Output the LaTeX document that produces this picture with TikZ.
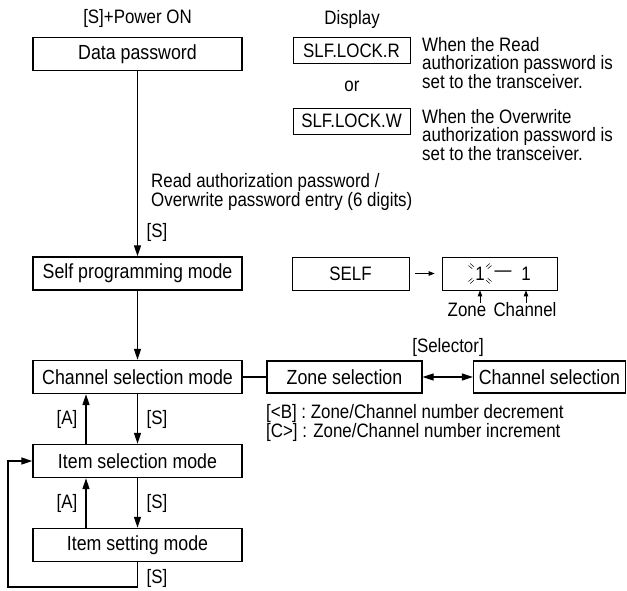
\documentclass[tikz,border=0pt]{standalone}
\usepackage{fontspec}
\setmainfont[FakeStretch=0.87]{Liberation Sans}
\usetikzlibrary{arrows.meta,calc}

\begin{document}
\begin{tikzpicture}[x=1bp,y=-1bp,
    mbox/.style={draw,line width=1.4bp,minimum width=209bp,minimum height=33bp,inner sep=0pt,font=\fontsize{20.5}{20.5}\selectfont},
    dbox/.style={draw,line width=0.7bp,minimum width=117bp,minimum height=26bp,inner sep=0pt,font=\fontsize{19.5}{19.5}\selectfont},
    txt/.style={inner sep=0pt,font=\fontsize{19.5}{17.8}\selectfont,align=left},
    arr/.style={line width=1.2bp,-{Triangle[length=11bp,width=7bp]}},
    darr/.style={line width=1.2bp,{Triangle[length=11bp,width=7bp]}-{Triangle[length=11bp,width=7bp]}},
    sarr/.style={line width=0.8bp,-{Triangle[length=6bp,width=4.5bp]}}]
  \useasboundingbox (0,0) rectangle (627,591);

  \node[txt] (pwr) at (137.5,18) {[S]+Power ON};
  \node[mbox] (dpw) at (137.5,54) {Data password};
  \node[mbox] (spm) at (137.5,273.5) {Self programming mode};
  \node[mbox] (csm) at (137.5,377) {Channel selection mode};
  \node[mbox] (ism) at (137.5,461) {Item selection mode};
  \node[mbox] (itm) at (137.5,545) {Item setting mode};

  \node[txt] (disp) at (352,19) {Display};
  \node[dbox] (lkr) at (351.5,50.5) {SLF.LOCK.R};
  \node[txt] (or) at (352,86) {or};
  \node[dbox] (lkw) at (351.5,121) {SLF.LOCK.W};
  \node[txt,anchor=west] (nr) at (422,63) {When the Read\\authorization password is\\set to the transceiver.};
  \node[txt,anchor=west] (nw) at (422,135) {When the Overwrite\\authorization password is\\set to the transceiver.};

  \node[txt,anchor=west] (pin) at (151,192) {Read authorization password /\\Overwrite password entry (6 digits)};
  \node[txt] (s1) at (157,232) {[S]};

  \node[dbox,minimum height=33bp] (self) at (350.5,273.5) {SELF};
  \node[dbox,minimum width=115bp,minimum height=33bp] (cnt) at (499.5,273.5) {};
  \node[txt] (d1) at (480,273.5) {1};
  \node[txt] (dsh) at (503,273.5) {---};
  \node[txt] (d2) at (526,273.5) {1};
  \foreach \a in {40,140,220,320}
    \foreach \s in {-1.3,1.3}
      \draw[line width=0.5bp] ($(d1.center)+(\a:9bp)+(\a+90:\s bp)$) -- ($(d1.center)+(\a:14bp)+(\a+90:\s bp)$);
  \node[txt] (zn) at (467,310) {Zone};
  \node[txt] (ch) at (525,310) {Channel};

  \node[txt] (sel) at (448,347) {[Selector]};
  \node[dbox,line width=1.2bp,minimum width=155bp,minimum height=32bp,font=\fontsize{20.5}{20.5}\selectfont] (zsel) at (344.5,377) {Zone selection};
  \node[dbox,line width=1.2bp,minimum width=152bp,minimum height=32bp,font=\fontsize{20.5}{20.5}\selectfont] (chsel) at (549.5,377) {Channel selection};
  \node[txt,anchor=west] (bc) at (266,423) {[<B] : Zone/Channel number decrement\\{}[C>] : Zone/Channel number increment};

  \node[txt] (a1) at (67,419) {[A]};
  \node[txt] (s2) at (157,419) {[S]};
  \node[txt] (a2) at (67,503) {[A]};
  \node[txt] (s3) at (157,503) {[S]};
  \node[txt] (s4) at (157,578) {[S]};
  \coordinate (lp) at (8,587);

  \draw[arr] (dpw) -- (spm);
  \draw[arr] (spm) -- (csm);
  \draw[line width=1.2bp] (csm) -- (zsel);
  \draw[darr] (zsel) -- (chsel);
  \draw[arr] (csm) -- (ism);
  \draw[arr] (ism) -- (itm);
  \draw[arr] ([xshift=-51.5bp]ism.north) -- ([xshift=-51.5bp]csm.south);
  \draw[arr] ([xshift=-51.5bp]itm.north) -- ([xshift=-51.5bp]ism.south);
  \draw[arr] (itm.south) |- (lp) |- (ism.west);
  \draw[sarr,shorten <=6bp,shorten >=7bp] (self) -- (cnt);
  \draw[sarr] (zn.north -| d1) -- (d1 |- cnt.south);
  \draw[sarr] (ch.north -| d2) -- (d2 |- cnt.south);
\end{tikzpicture}
\end{document}
